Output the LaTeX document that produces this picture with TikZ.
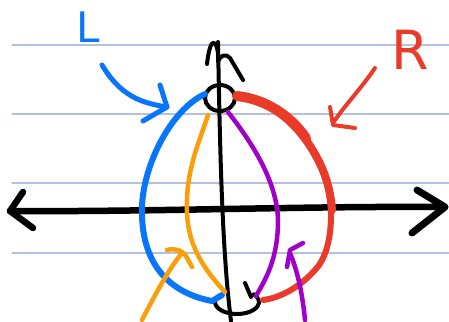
\documentclass[tikz,border=0pt]{standalone}
\usepackage{fontspec}
\setsansfont{DejaVu Sans}
\definecolor{ruleblue}{RGB}{180,192,220}
\definecolor{penblue}{RGB}{8,118,250}
\definecolor{penred}{RGB}{234,58,42}
\definecolor{penorange}{RGB}{252,158,10}
\definecolor{penpurple}{RGB}{160,0,200}
\begin{document}
\begin{tikzpicture}[x=1pt,y=-1pt,line cap=round,line join=round]
\useasboundingbox[fill=white] (0,0) rectangle (449,321);
\foreach \y in {45,114,183,253}
  \draw[ruleblue,line width=1.2] (12,\y) -- (449,\y);

\draw[line width=6.5] (10,211) .. controls (150,212) and (300,206) .. (445,207);
\draw[line width=6.5] (23,192) -- (10,211) -- (33,228);
\draw[line width=7] (417,190) -- (445,207) -- (412,233);

\draw[line width=4] (218,42) .. controls (220,150) and (222,250) .. (231,321);
\draw[line width=4] (207,64) .. controls (208,55) and (210,44) .. (213,43)
  .. controls (217,42) and (219,55) .. (218,62)
  .. controls (220,55) and (226,53) .. (230,58) -- (243,80);

\coordinate (top) at (220,98);
\coordinate (bottom) at (237,302);
\draw[line width=4] (top) ellipse [x radius=15,y radius=13];
\draw[line width=4] (bottom) ++(200:22 and 12) arc [start angle=200,end angle=-40,x radius=22,y radius=12];
\draw[line width=4] (245,283) -- (251,297);

\draw[penblue,line width=6] (205,94) .. controls (170,110) and (140,170) .. (142,215)
  .. controls (143,260) and (165,292) .. (212,301) -- (222,295);
\draw[penred,line width=6] (237,96) .. controls (275,100) and (305,130) .. (322,168)
  .. controls (335,195) and (335,250) .. (315,270)
  .. controls (300,287) and (280,298) .. (263,300);
\draw[penred,line width=8] (237,96) .. controls (275,100) and (305,130) .. (322,168)
  .. controls (328,182) and (331,196) .. (332,210);
\draw[penred,line width=10] (237,96) .. controls (265,99) and (290,115) .. (306,138);
\draw[penorange,line width=4.5] (208,115) .. controls (200,140) and (188,165) .. (187,200)
  .. controls (185,240) and (200,265) .. (225,292);
\draw[penpurple,line width=4.5] (228,112) .. controls (250,140) and (277,180) .. (278,220)
  .. controls (278,260) and (265,280) .. (256,296);

\draw[penblue,line width=5] (102,65) .. controls (120,95) and (140,103) .. (167,107);
\draw[penblue,line width=5] (160,85) -- (167,107) -- (143,121);
\draw[penred,line width=4] (375,68) .. controls (360,90) and (345,105) .. (333,123);
\draw[penred,line width=4] (330,107) -- (333,125) -- (355,128);
\draw[penorange,line width=4.5] (142,320) .. controls (155,295) and (168,270) .. (182,253);
\draw[penorange,line width=4.5] (167,250) .. controls (175,248) and (182,250) .. (186,256) -- (192,267);
\draw[penpurple,line width=4.5] (305,320) .. controls (302,290) and (297,270) .. (290,253);
\draw[penpurple,line width=4.5] (287,267) -- (290,250) -- (303,243);

\node[penblue,inner sep=0,font=\fontsize{42}{42}\sffamily] (lblL) at (88,27) {L};
\node[penred,inner sep=0,font=\fontsize{54}{54}\sffamily] (lblR) at (410,50) {R};
\end{tikzpicture}
\end{document}
